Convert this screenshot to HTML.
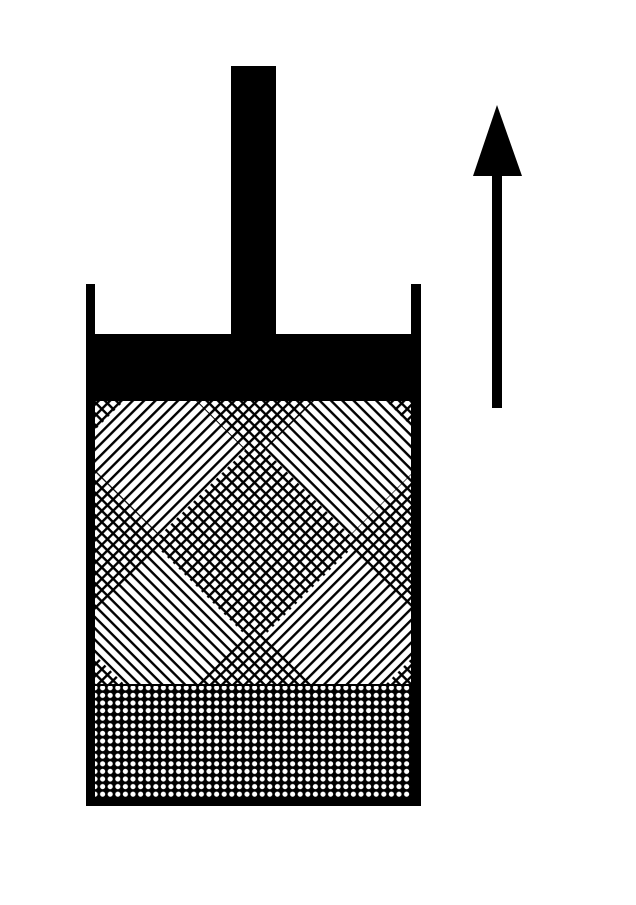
<!DOCTYPE html>
<html><head><style>html,body{margin:0;padding:0;background:#fff;}svg{display:block}</style></head>
<body>
<svg width="636" height="905" viewBox="0 0 636 905" xmlns="http://www.w3.org/2000/svg">
<defs>
<pattern id="fw" patternUnits="userSpaceOnUse" width="8" height="8" patternTransform="rotate(-45)">
<rect x="0" y="0" width="8" height="2.4" fill="#000"/>
</pattern>
<pattern id="bw" patternUnits="userSpaceOnUse" width="8" height="8" patternTransform="rotate(45)">
<rect x="0" y="0" width="8" height="2.4" fill="#000"/>
</pattern>
<pattern id="dots" patternUnits="userSpaceOnUse" width="7.6" height="7.6">
<rect width="7.6" height="7.6" fill="#000"/>
<circle cx="3.8" cy="3.8" r="2.6" fill="#fff"/>
</pattern>
<mask id="mf">
<rect x="0" y="0" width="636" height="905" fill="#fff"/>
<polygon points="350,365 435,450 350,535 265,450" fill="#000"/>
<polygon points="160,550 245,635 160,720 75,635" fill="#000"/>
</mask>
<mask id="mb">
<rect x="0" y="0" width="636" height="905" fill="#fff"/>
<polygon points="160,365 245,450 160,535 75,450" fill="#000"/>
<polygon points="350,550 435,635 350,720 265,635" fill="#000"/>
</mask>
<clipPath id="gas"><rect x="95" y="401" width="316" height="285"/></clipPath>
</defs>
<g clip-path="url(#gas)">
<rect x="95" y="401" width="316" height="285" fill="url(#fw)" mask="url(#mf)"/>
<rect x="95" y="401" width="316" height="285" fill="url(#bw)" mask="url(#mb)"/>
</g>
<rect x="95" y="684" width="316" height="2" fill="#000"/>
<rect x="95" y="686" width="316" height="112" fill="url(#dots)"/>
<rect x="86" y="284" width="9" height="522" fill="#000"/>
<rect x="411" y="284" width="10" height="522" fill="#000"/>
<rect x="86" y="797" width="335" height="9" fill="#000"/>
<rect x="95" y="334" width="316" height="67" fill="#000"/>
<rect x="231" y="66" width="45" height="270" fill="#000"/>
<rect x="492" y="170" width="10" height="238" fill="#000"/>
<polygon points="497,105 522,176 473,176" fill="#000"/>
</svg>
</body></html>
